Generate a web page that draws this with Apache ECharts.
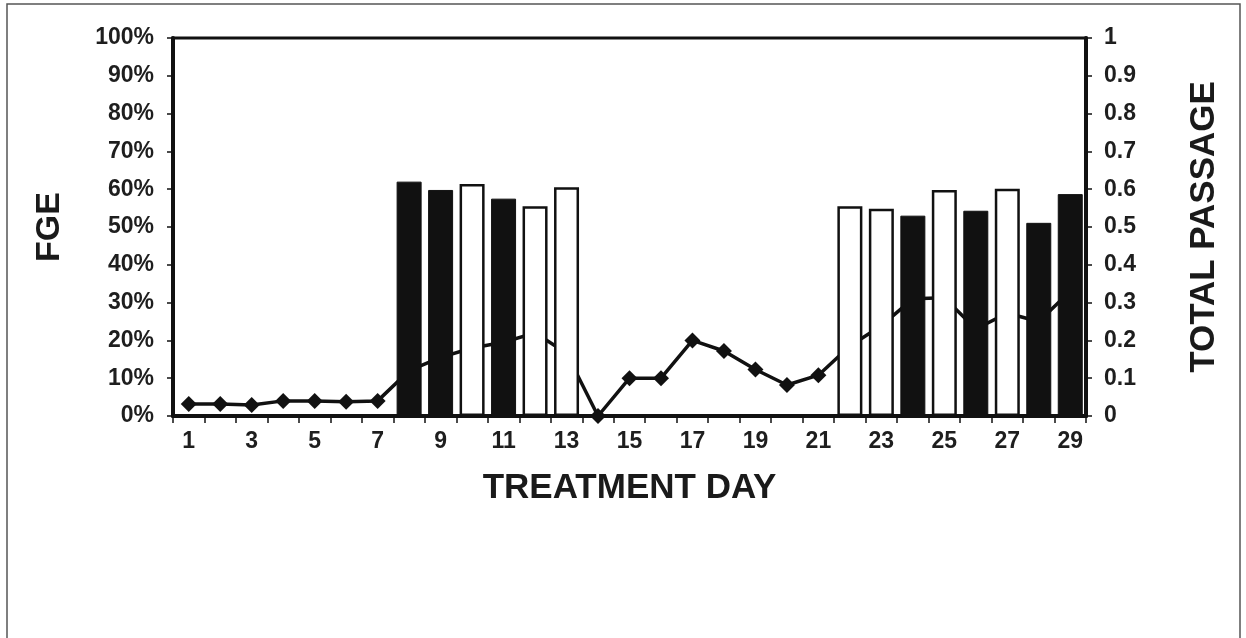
<!DOCTYPE html>
<html>
<head>
<meta charset="utf-8">
<script src="https://cdn.jsdelivr.net/npm/echarts@6/dist/echarts.min.js"></script>
<style>
  html, body { margin: 0; padding: 0; background: #fff; }
  #chart { width: 1246px; height: 638px; }
</style>
</head>
<body>
<div id="chart"></div>
<script>
// treatment days 1..29
const days = [];
for (let d = 1; d <= 29; d++) days.push(String(d));

// FGE bars (fraction), solid black vs open bars
const fgeSolid = [null,null,null,null,null,null,null,0.62,0.598,null,0.575,null,null,
                  null,null,null,null,null,null,null,null,null,null,0.53,null,0.543,null,0.511,0.587];
const fgeOpen  = [null,null,null,null,null,null,null,null,null,0.614,null,0.555,0.605,
                  null,null,null,null,null,null,null,null,0.555,0.548,null,0.598,null,0.601,null,null];

// total passage (right axis)
const passage = [0.032,0.032,0.029,0.04,0.04,0.038,0.04,0.12,0.155,0.18,0.195,0.22,0.166,
                 0.0,0.1,0.1,0.2,0.172,0.123,0.082,0.108,0.185,0.239,0.31,0.313,0.23,0.272,0.25,0.33];

const labelFont = { fontFamily: 'Liberation Sans, Arial, sans-serif', fontWeight: 'bold', color: '#1e1e1e' };

const chart = echarts.init(document.getElementById('chart'));

const option = {
    animation: false,
    backgroundColor: '#fff',
    graphic: [
        {
            type: 'rect',
            shape: { x: 7, y: 4, width: 1233, height: 660 },
            style: { fill: 'none', stroke: '#555', lineWidth: 1.5 },
            silent: true
        }
    ],
    grid: {
        left: 173, right: 160, top: 38, bottom: 222,
        show: true, borderColor: '#111', borderWidth: 3
    },
    xAxis: {
        type: 'category',
        data: days,
        boundaryGap: true,
        name: 'TREATMENT DAY',
        nameLocation: 'middle',
        nameGap: 55,
        nameTextStyle: Object.assign({}, labelFont, { fontSize: 35, color: '#1a1a1a' }),
        axisLine: { show: true, lineStyle: { color: '#111', width: 4 } },
        axisTick: { show: true, alignWithLabel: false, interval: 0, length: 7, lineStyle: { color: '#111', width: 1.5 } },
        axisLabel: Object.assign({}, labelFont, { fontSize: 23, interval: 1, margin: 14 }),
        splitLine: { show: false }
    },
    yAxis: [
        {
            type: 'value',
            min: 0, max: 1, interval: 0.1,
            name: 'FGE',
            nameLocation: 'middle',
            nameRotate: 90,
            nameGap: 106,
            nameTextStyle: Object.assign({}, labelFont, { fontSize: 34, color: '#1a1a1a' }),
            axisLine: { show: true, lineStyle: { color: '#111', width: 4 } },
            axisTick: { show: true, length: 6, lineStyle: { color: '#111', width: 1.5 } },
            axisLabel: Object.assign({}, labelFont, {
                fontSize: 23, margin: 19,
                formatter: v => Math.round(v * 100) + '%'
            }),
            splitLine: { show: false }
        },
        {
            type: 'value',
            min: 0, max: 1, interval: 0.1,
            position: 'right',
            name: 'TOTAL PASSAGE',
            nameLocation: 'middle',
            nameRotate: 90,
            nameGap: 101,
            nameTextStyle: Object.assign({}, labelFont, { fontSize: 35, color: '#1a1a1a' }),
            axisLine: { show: true, lineStyle: { color: '#111', width: 4 } },
            axisTick: { show: true, length: 6, lineStyle: { color: '#111', width: 1.5 } },
            axisLabel: Object.assign({}, labelFont, {
                fontSize: 23, margin: 18,
                formatter: v => String(Math.round(v * 10) / 10)
            }),
            splitLine: { show: false }
        }
    ],
    series: [
        {
            name: 'Total passage',
            type: 'line',
            yAxisIndex: 1,
            data: passage,
            z: 1,
            symbol: 'diamond',
            symbolSize: 16,
            lineStyle: { color: '#111', width: 3.5 },
            itemStyle: { color: '#111' }
        },
        {
            name: 'FGE solid',
            type: 'bar',
            data: fgeSolid,
            barWidth: 25,
            barGap: '-100%',
            z: 3,
            itemStyle: { color: '#111', borderColor: '#111', borderWidth: 1 }
        },
        {
            name: 'FGE open',
            type: 'bar',
            data: fgeOpen,
            barWidth: 25,
            z: 3,
            itemStyle: { color: '#fff', borderColor: '#111', borderWidth: 2.5 }
        }
    ]
};

chart.setOption(option);
</script>
</body>
</html>
